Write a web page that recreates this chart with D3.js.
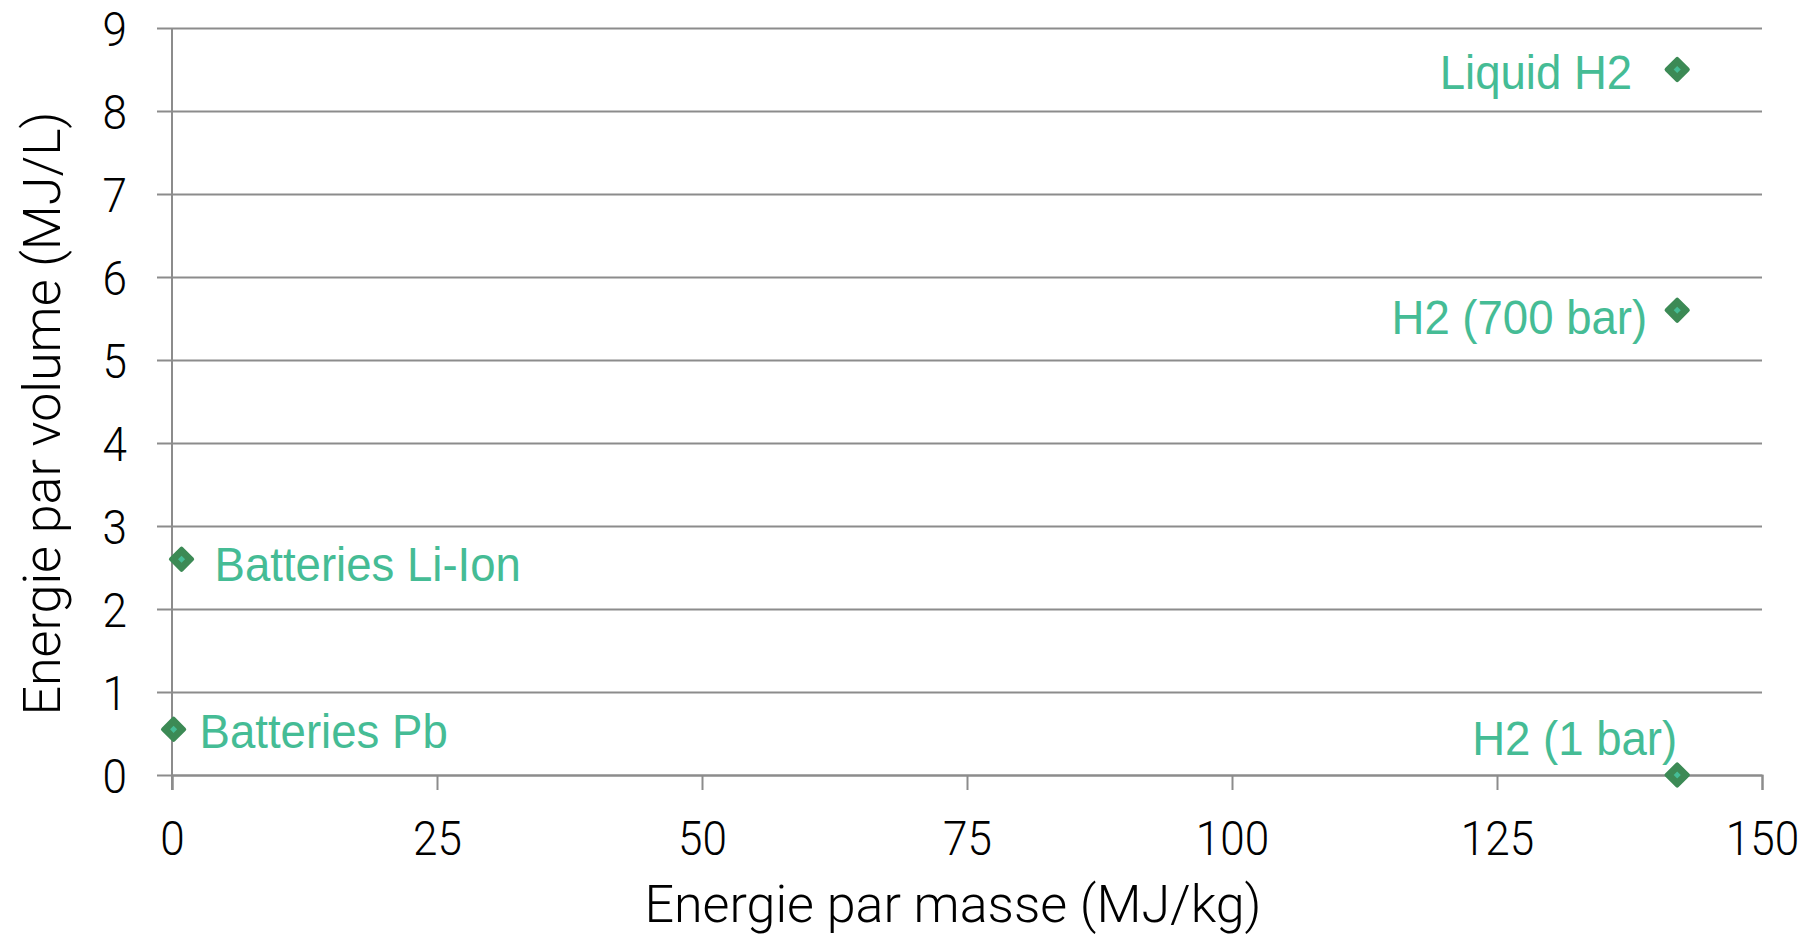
<!DOCTYPE html>
<html lang="en">
<head>
<meta charset="UTF-8">
<title>Energie par masse vs volume</title>
<script src="https://d3js.org/d3.v7.min.js"></script>
<style>
    body { margin: 0; background: #fff; }
    svg text { font-family: "Liberation Sans", Arial, sans-serif; }
    .tick text, .title { font-family: Roboto, "Liberation Sans", sans-serif; font-weight: 300; fill: #000; }
</style>
</head>
<body>
<div id="chart"></div>
<script>
    // data
    const names = ["Liquid H2", "H2 (700 bar)", "H2 (1 bar)", "Batteries Li-Ion", "Batteries Pb"];
    const massEnergy = [142, 142, 142, 0.9, 0.15];     // MJ/kg
    const volumeEnergy = [8.5, 5.6, 0, 2.6, 0.55];     // MJ/L
    const labelSide = ["left", "left", "above", "right", "right"];
    const xTicks = [0, 25, 50, 75, 100, 125, 150];
    const yTicks = [0, 1, 2, 3, 4, 5, 6, 7, 8, 9];

    const W = 1814, H = 937;
    const margin = { top: 28, right: 52, bottom: 162, left: 172 };
    const width = W - margin.left - margin.right,
        height = H - margin.top - margin.bottom;

    const gridColor = "#8c8c8c",
        labelColor = "#45bc95",
        markerColor = "#3c8a55";

    const svg = d3.select("#chart").append("svg")
        .attr("width", W)
        .attr("height", H)
        .append("g")
        .attr("transform", "translate(" + margin.left + "," + margin.top + ")");

    const x = d3.scaleLinear().domain([0, 150]).range([0, width]);
    const y = d3.scaleLinear().domain([0, 9]).range([height, 0]);

    // horizontal gridlines + y axis labels
    const yAxis = svg.append("g")
        .attr("transform", "translate(-15,0)")
        .call(d3.axisLeft(y).tickValues(yTicks).tickSize(-width - 15).tickFormat(d3.format("d")));
    yAxis.select(".domain").remove();
    yAxis.selectAll(".tick line").attr("stroke", gridColor).attr("stroke-width", 2).attr("x1", 0);
    yAxis.selectAll(".tick text")
        .style("font-size", "49px")
        .attr("x", 0).attr("dy", "0.36em")
        .attr("transform", "translate(-30,0) scale(0.9,1)");

    // x axis
    const xAxis = svg.append("g")
        .attr("transform", "translate(0," + height + ")")
        .call(d3.axisBottom(x).tickValues(xTicks).tickSize(15).tickPadding(30).tickFormat(d3.format("d")));
    xAxis.select(".domain").attr("stroke", gridColor).attr("stroke-width", 2);
    xAxis.selectAll(".tick line").attr("stroke", gridColor).attr("stroke-width", 2);
    xAxis.selectAll(".tick text")
        .style("font-size", "49px")
        .attr("transform", "scale(0.9,1)");

    // vertical axis line
    svg.append("line")
        .attr("x1", x(0)).attr("x2", x(0))
        .attr("y1", 0).attr("y2", height + 15)
        .attr("stroke", gridColor).attr("stroke-width", 2);

    // axis titles
    svg.append("text")
        .attr("class", "title")
        .attr("x", width / 2 - 14)
        .attr("y", height + 147)
        .attr("text-anchor", "middle")
        .style("font-size", "52px")
        .text("Energie par masse (MJ/kg)");

    svg.append("text")
        .attr("class", "title")
        .attr("transform", "translate(" + (-112) + "," + (height / 2 + 12) + ") rotate(-90)")
        .attr("text-anchor", "middle")
        .style("font-size", "52px")
        .text("Energie par volume (MJ/L)");

    const pts = names.map((n, i) => ({ name: n, mx: massEnergy[i], vy: volumeEnergy[i], side: labelSide[i] }));

    // markers
    const mk = svg.selectAll(".pt").data(pts).enter().append("g")
        .attr("class", "pt")
        .attr("transform", d => "translate(" + x(d.mx) + "," + y(d.vy) + ") rotate(45)");
    mk.append("rect")
        .attr("x", -7.5).attr("y", -7.5).attr("width", 15).attr("height", 15)
        .attr("fill", markerColor).attr("stroke", markerColor)
        .attr("stroke-width", 4).attr("stroke-linejoin", "round");
    mk.append("rect")
        .attr("x", -2.5).attr("y", -2.5).attr("width", 5).attr("height", 5)
        .attr("fill", labelColor);

    // label offsets from the marker, the way Excel placed them
    const nudge = {
        "Liquid H2": [-45, 19],
        "H2 (700 bar)": [-30, 24],
        "H2 (1 bar)": [0, -20],
        "Batteries Li-Ion": [33, 22],
        "Batteries Pb": [26, 19]
    };

    svg.selectAll(".lbl").data(pts).enter().append("text")
        .attr("class", "lbl")
        .attr("transform", d => "translate(" + (x(d.mx) + nudge[d.name][0]) + "," + (y(d.vy) + nudge[d.name][1]) + ") scale(0.93,1)")
        .attr("text-anchor", d => d.side === "right" ? "start" : "end")
        .style("font-size", "49px")
        .attr("fill", labelColor)
        .text(d => d.name);
</script>
</body>
</html>
